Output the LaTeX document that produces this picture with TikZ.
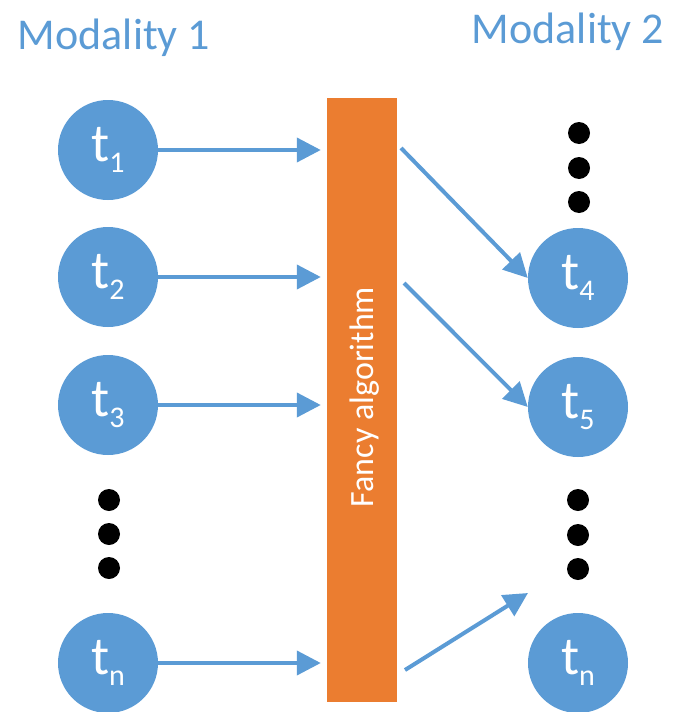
\documentclass[tikz,border=0pt]{standalone}
\usepackage{fontspec}
\setmainfont{Carlito}
\usepackage{tikz}
\usetikzlibrary{arrows.meta}
\usetikzlibrary{positioning}
\usetikzlibrary{calc}

\definecolor{modblue}{RGB}{91,155,213}
\definecolor{algorange}{RGB}{235,125,48}

\newcommand{\tsub}[1]{t\raisebox{-11pt}{\fontsize{30}{30}\selectfont #1}}

\tikzset{
    tnode/.style = {circle, fill=modblue, minimum size=100pt, inner sep=0pt, text=white, font=\fontsize{54}{54}\selectfont},
    dotnode/.style = {circle, fill=black, minimum size=22pt, inner sep=0pt},
    flow/.style = {draw=modblue, line width=4pt, -{Triangle[length=24pt,width=24pt]}},
    modtitle/.style = {text=modblue, font=\fontsize{44}{44}\selectfont, anchor=base}
}

\begin{document}
\begin{tikzpicture}[x=1pt, y=-1pt]
    \useasboundingbox (0,0) rectangle (673,712);
    \node[modtitle] (mod1) at (114,49) {Modality 1};
    \node[modtitle] (mod2) at (568,43) {Modality 2};

    \node[fill=algorange, minimum width=70pt, minimum height=604pt, inner sep=0pt] (alg) at (362,400) {};
    \node[rotate=90, text=white, font=\fontsize{34}{34}\selectfont] (algtext) at (365,397) {Fancy algorithm};

    \node[tnode] (t1) at (108,150) {\tsub{1}};
    \node[tnode] (t2) at (108,277) {\tsub{2}};
    \node[tnode] (t3) at (108,405) {\tsub{3}};
    \node[dotnode] (ldot1) at (109,500) {};
    \node[dotnode] (ldot2) at (109,534) {};
    \node[dotnode] (ldot3) at (109,568) {};
    \node[tnode] (tn) at (108,663) {\tsub{n}};

    \node[dotnode] (rdot1) at (579,133) {};
    \node[dotnode] (rdot2) at (579,168) {};
    \node[dotnode] (rdot3) at (579,202) {};
    \node[tnode] (t4) at (578,278) {\tsub{4}};
    \node[tnode] (t5) at (578,407) {\tsub{5}};
    \node[dotnode] (rdot4) at (578,500) {};
    \node[dotnode] (rdot5) at (578,535) {};
    \node[dotnode] (rdot6) at (578,569) {};
    \node[tnode] (tm) at (578,663) {\tsub{n}};

    \coordinate (o1) at (401,148);
    \coordinate (o2) at (404,283);
    \coordinate (o3) at (405,670);
    \coordinate (e3) at (528,593);

    \draw[flow] (t1) -- ([xshift=-6pt]alg.west |- t1);
    \draw[flow] (t2) -- ([xshift=-6pt]alg.west |- t2);
    \draw[flow] (t3) -- ([xshift=-6pt]alg.west |- t3);
    \draw[flow] (tn) -- ([xshift=-6pt]alg.west |- tn);
    \draw[flow] (o1) -- (t4.west);
    \draw[flow] (o2) -- (t5.west);
    \draw[flow] (o3) -- (e3);
\end{tikzpicture}
\end{document}
